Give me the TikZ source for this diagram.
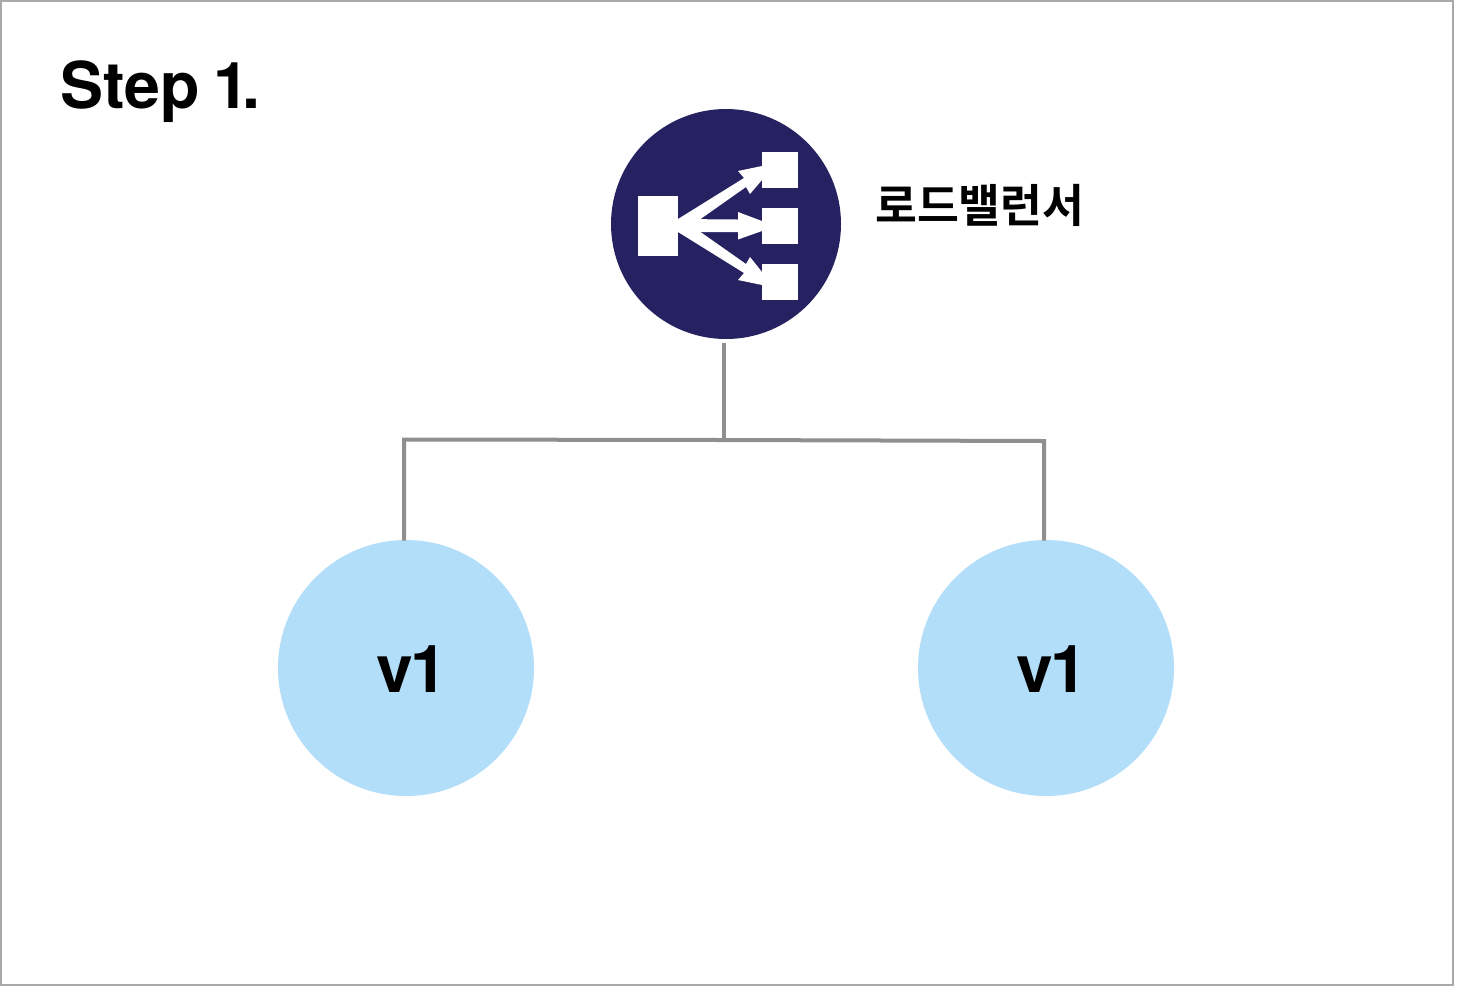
\documentclass[tikz,border=0pt]{standalone}
\usepackage{fontspec}
\setmainfont{TeX Gyre Heros}
\newfontfamily\krfont{Noto Sans CJK KR}[BoldFont={* Bold}]
\definecolor{framegray}{HTML}{A9A9A9}
\definecolor{linegray}{HTML}{8F8F8F}
\definecolor{lbnavy}{HTML}{262262}
\definecolor{podblue}{HTML}{B2DEFA}
\begin{document}
\begin{tikzpicture}[x=1pt,y=-1pt,
  conn/.style={draw=linegray,line width=4pt},
  pod/.style={circle,fill=podblue,minimum size=256pt,inner sep=0pt},
  podtext/.style={anchor=base west,inner sep=0pt,font=\bfseries\fontsize{66}{66}\selectfont},
  wbox/.style={fill=white}]
\useasboundingbox (0,0) rectangle (1482,986);
\fill[white] (0,0) rectangle (1482,986);
\draw[framegray,line width=2pt] (1,1) rectangle (1453,985);
\node[anchor=base west,inner sep=0pt,font=\bfseries\fontsize{64.5}{66}\selectfont] (title) at (60.5,108) {Step\hspace{-5pt} 1\hspace{-6pt}.};
\node[circle,fill=lbnavy,minimum size=230pt,inner sep=0pt] (lb) at (726,224) {};
\node[anchor=base west,inner sep=0pt,font=\krfont\bfseries\fontsize{45.5}{46}\selectfont] (lblabel) at (875,222) {로드밸런서};
\fill[wbox] (638,196) rectangle (678,256);
\fill[wbox] (762,152) rectangle (798,188);
\fill[wbox] (762,208) rectangle (798,244);
\fill[wbox] (762,264) rectangle (798,300);
\fill[wbox] (678,219) -- (738,219.5) -- (738,212) -- (762,221) -- (762,231) -- (738,239.5) -- (738,232) -- (678,232) -- cycle;
\fill[wbox] (678,219) -- (744,178) -- (738,171) -- (762,166) -- (762,180) -- (750,194) -- (746,187) -- (692,225) -- cycle;
\fill[wbox] (678,232) -- (692,226) -- (746,264) -- (750,257) -- (762,272) -- (762,285) -- (738,280) -- (744,273) -- cycle;
\node[pod] (p1) at (406,668) {};
\node[pod] (p2) at (1046,668) {};
\node[podtext] (t1) at (376.5,692) {v\hspace{-2.5pt}1};
\node[podtext] (t2) at (1016.5,692) {v\hspace{-2.5pt}1};
\coordinate (lbout) at (724,343);
\coordinate (mid) at (724,440);
\coordinate (p1in) at (404,540.5);
\coordinate (p2in) at (1044,540.5);
\draw[conn] (lbout) -- (mid);
\draw[conn,line join=miter] (p1in) -- (404,439.5) -- (mid) -- (1044,441) -- (p2in);
\end{tikzpicture}
\end{document}
